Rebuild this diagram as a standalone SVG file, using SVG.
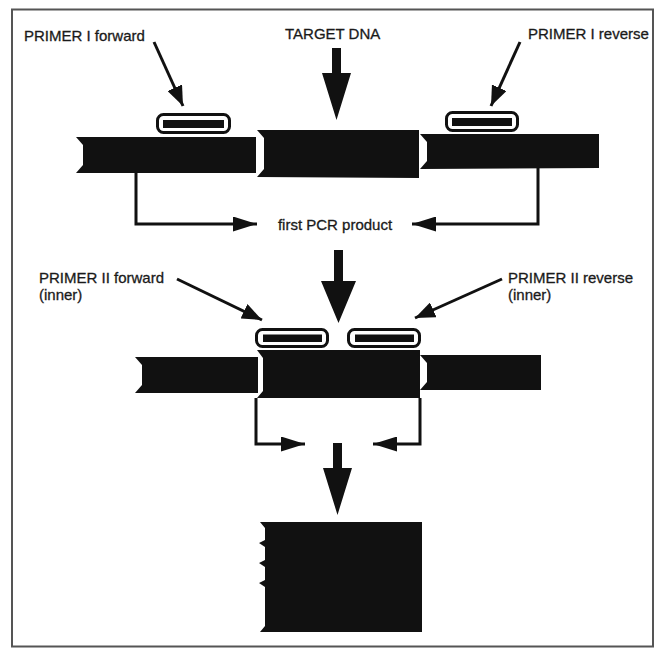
<svg xmlns="http://www.w3.org/2000/svg" width="655" height="648" viewBox="0 0 655 648">
<style>
text{font-family:"Liberation Sans",Arial,sans-serif;font-size:15px;fill:#1a1a1a;stroke:#1a1a1a;stroke-width:0.3}
.dna{fill:#111}
.pr{fill:#fff;stroke:#111;stroke-width:3}
.prin{fill:#111}
.ln{fill:none;stroke:#111;stroke-width:3}
.bigarrow{fill:#111}
</style>
<defs>
<marker id="ah" viewBox="0 0 20 16" refX="20" refY="8" markerWidth="20" markerHeight="16" markerUnits="userSpaceOnUse" orient="auto">
<path d="M0,0 L20,8 L0,16 z" fill="#111"/>
</marker>
<marker id="ah2" viewBox="0 0 24 15" refX="24" refY="7.5" markerWidth="24" markerHeight="15" markerUnits="userSpaceOnUse" orient="auto">
<path d="M0,0 L24,7.5 L0,15 z" fill="#111"/>
</marker>
</defs>
<rect x="12" y="9.5" width="641" height="637" fill="#fff" stroke="#555" stroke-width="2"/>

<g id="label-primer1-fwd"><text x="24" y="41">PRIMER I forward</text></g>
<g id="label-target"><text x="285" y="39">TARGET DNA</text></g>
<g id="label-primer1-rev"><text x="528" y="39">PRIMER I reverse</text></g>

<g id="primer1-fwd">
<rect class="pr" x="157.5" y="114.5" width="72" height="18" rx="6"/>
<rect class="prin" x="163" y="120" width="61" height="8"/>
</g>
<g id="primer1-rev">
<rect class="pr" x="446.5" y="112.5" width="71" height="18" rx="6"/>
<rect class="prin" x="452" y="118" width="60" height="8"/>
</g>

<g id="strand1-left"><polygon class="dna" points="76,137 256,137 256,173 76,173 83,165 83,145"/></g>
<g id="strand1-target"><polygon class="dna" points="257,130 419,130 419,178 257,177 264,169 264,138"/></g>
<g id="strand1-right"><polygon class="dna" points="420,134 599,134 599,168 420,169 427,161 427,142"/></g>

<g id="label-first-pcr"><text x="335" y="230" text-anchor="middle">first PCR product</text></g>

<g id="label-primer2-fwd"><text x="39" y="283">PRIMER II forward</text><text x="39" y="300">(inner)</text></g>
<g id="label-primer2-rev"><text x="508" y="283">PRIMER II reverse</text><text x="508" y="300">(inner)</text></g>

<g id="primer2-fwd">
<rect class="pr" x="256.5" y="329.5" width="71" height="17" rx="6"/>
<rect class="prin" x="263" y="334.5" width="59" height="7.5"/>
</g>
<g id="primer2-rev">
<rect class="pr" x="348.5" y="329.5" width="71" height="17" rx="6"/>
<rect class="prin" x="355" y="334.5" width="59" height="7.5"/>
</g>

<g id="strand2-left"><polygon class="dna" points="135,357 258,357 258,393 135,393 142,385 142,365"/></g>
<g id="strand2-product"><polygon class="dna" points="257,350 420,350 420,398 257,398 263,391 263,358"/></g>
<g id="strand2-right"><polygon class="dna" points="420,355 541,355 541,390 420,390 427,382 427,363"/></g>

<g id="final-product"><polygon class="dna" points="260,522 422,522 422,632 260,632 265,626 265,587 259,583 265,580 265,567 259,563 265,560 265,547 259,543 265,540 265,528"/></g>

<g id="connectors">
<line class="ln" x1="154" y1="42" x2="183" y2="106" marker-end="url(#ah)"/>
<line class="ln" x1="520" y1="42" x2="491" y2="106" marker-end="url(#ah)"/>
<polygon class="bigarrow" points="332,48 341,48 341,73 351,73 336.5,120 322,73 332,73"/>

<polyline class="ln" points="136,173 136,224 257,224" marker-end="url(#ah2)"/>
<polyline class="ln" points="538,168 538,224 412,224" marker-end="url(#ah2)"/>

<polygon class="bigarrow" points="334,250 343,250 343,281 356,281 338.5,323 321,281 334,281"/>

<line class="ln" x1="177" y1="279" x2="262" y2="320" marker-end="url(#ah)"/>
<line class="ln" x1="502" y1="279" x2="415" y2="318" marker-end="url(#ah)"/>

<polyline class="ln" points="256,398 256,444 305,444" marker-end="url(#ah2)"/>
<polyline class="ln" points="420,398 420,444 373,444" marker-end="url(#ah2)"/>

<polygon class="bigarrow" points="333,443 342,443 342,468 352,468 337.5,515 323,468 333,468"/>
</g>
</svg>
